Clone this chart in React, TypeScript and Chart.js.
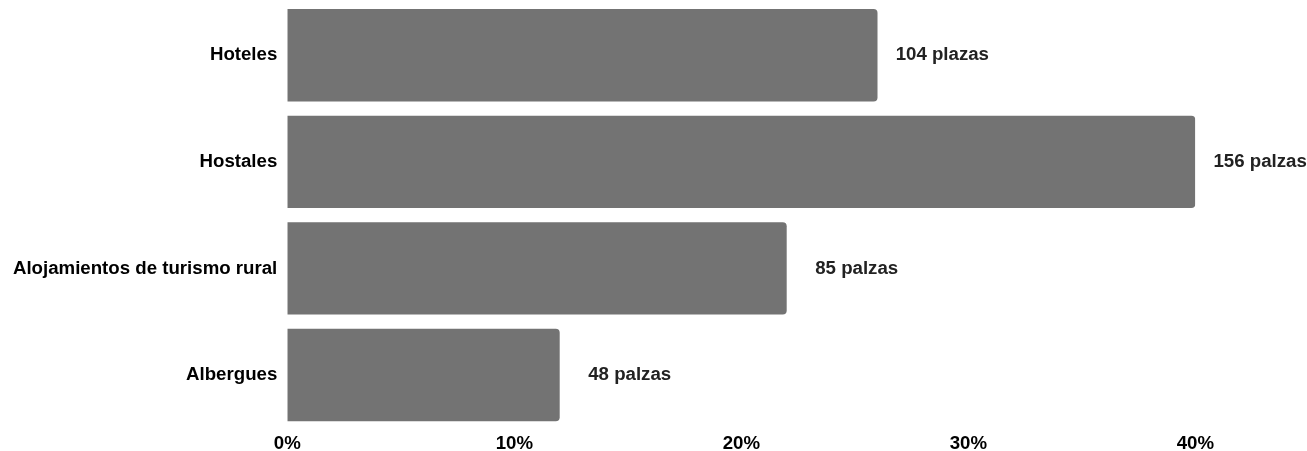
import React, { useEffect, useRef } from "react";
import { Chart, registerables } from "chart.js";

Chart.register(...registerables);

const categories = ["Hoteles", "Hostales", "Alojamientos de turismo rural", "Albergues"];
const shares = [26, 40, 22, 12];
const placeLabels = ["104 plazas", "156 palzas", "85 palzas", "48 palzas"];
const xTicks = [0, 10, 20, 30, 40];

const FONT_FAMILY = "'Liberation Sans', Arial, sans-serif";
const FONT_SIZE = 18.67;

const valueLabels = {
  id: "valueLabels",
  afterDatasetsDraw(chart: any) {
    const ctx = chart.ctx;
    const meta = chart.getDatasetMeta(0);
    ctx.save();
    ctx.font = `bold ${FONT_SIZE}px ${FONT_FAMILY}`;
    ctx.fillStyle = "#222222";
    ctx.textAlign = "right";
    ctx.textBaseline = "middle";
    meta.data.forEach((bar: any, i: number) => {
      ctx.fillText(placeLabels[i], bar.x + 111.5, bar.y);
    });
    ctx.restore();
  },
};

export default function App() {
  const canvasRef = useRef<HTMLCanvasElement | null>(null);

  useEffect(() => {
    document.body.style.margin = "0";
    const canvas = canvasRef.current;
    if (!canvas) return;
    const chart = new Chart(canvas, {
      type: "bar",
      data: {
        labels: categories,
        datasets: [
          {
            data: shares,
            backgroundColor: "#737373",
            borderRadius: 4,
            barPercentage: 0.867,
            categoryPercentage: 1,
          },
        ],
      },
      options: {
        indexAxis: "y",
        responsive: false,
        animation: false,
        layout: { padding: { top: 2, right: 111.7, bottom: 0, left: 0 } },
        plugins: {
          legend: { display: false },
          tooltip: { enabled: false },
        },
        scales: {
          x: {
            min: 0,
            max: 40,
            afterFit(scale: any) {
              scale.height = 22.75;
              scale.paddingLeft = 0;
              scale.paddingRight = 0;
            },
            afterBuildTicks(scale: any) {
              scale.ticks = xTicks.map((v) => ({ value: v }));
            },
            grid: { display: false, drawTicks: false },
            border: { display: false },
            ticks: {
              padding: 4,
              color: "#000000",
              font: { family: FONT_FAMILY, size: FONT_SIZE, weight: "bold" },
              callback: (v: any) => `${v}%`,
            },
          },
          y: {
            afterFit(scale: any) {
              scale.width = 287.3;
              scale.paddingTop = 0;
              scale.paddingBottom = 0;
            },
            grid: { display: false, drawTicks: false },
            border: { display: false },
            ticks: {
              padding: 10,
              color: "#000000",
              font: { family: FONT_FAMILY, size: FONT_SIZE, weight: "bold" },
            },
          },
        },
      },
      plugins: [valueLabels],
    });
    return () => chart.destroy();
  }, []);

  return <canvas ref={canvasRef} width={1307} height={451} style={{ display: "block" }} />;
}
